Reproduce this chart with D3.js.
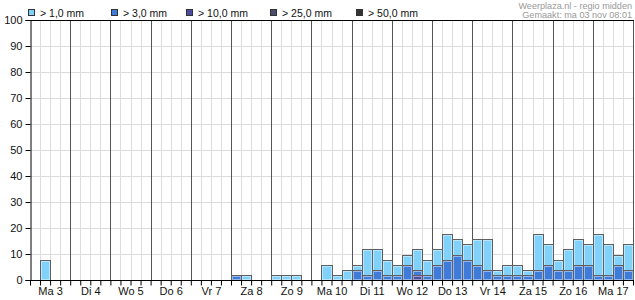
<!DOCTYPE html>
<html><head><meta charset="utf-8">
<script src="https://cdn.jsdelivr.net/npm/d3@7"></script>
<style>
body{margin:0;background:#fff;}
svg{display:block;font-family:"Liberation Sans",Arial,sans-serif;}
</style></head>
<body><svg id="c" width="635" height="300"></svg>
<script>
// ---- data ----
const days = ["Ma 3","Di 4","Wo 5","Do 6","Vr 7","Za 8","Zo 9","Ma 10","Di 11","Wo 12","Do 13","Vr 14","Za 15","Zo 16","Ma 17"];
const seriesNames = ["> 1,0 mm","> 3,0 mm","> 10,0 mm","> 25,0 mm","> 50,0 mm"];
const seriesColors = ["#80d2fb","#3f7bd9","#4a4aa3","#4b4b6b","#333333"];
// 4 values per day (6-hour periods), percent
const gt1 = [
  0,7.84,0,0,   0,0,0,0,   0,0,0,0,   0,0,0,0,   0,0,0,0,
  1.96,1.96,0,0,   1.96,1.96,1.96,0,   0,5.88,1.96,3.92,
  5.88,11.76,11.76,7.84,   5.88,9.8,11.76,7.84,   11.76,17.65,15.69,13.73,
  15.69,15.69,3.92,5.88,   5.88,3.92,17.65,13.73,   7.84,11.76,15.69,13.73,
  17.65,13.73,9.8,13.73];
const gt3 = [
  0,0,0,0,   0,0,0,0,   0,0,0,0,   0,0,0,0,   0,0,0,0,
  1.96,0,0,0,   0,0,0,0,   0,0,0,0,
  3.92,1.96,3.92,1.96,   1.96,5.88,3.92,1.96,   5.88,7.84,9.8,7.84,
  5.88,3.92,1.96,1.96,   1.96,1.96,3.92,5.88,   3.92,3.92,5.88,5.88,
  1.96,1.96,5.88,3.92];
const gt10 = [
  0,0,0,0,   0,0,0,0,   0,0,0,0,   0,0,0,0,   0,0,0,0,
  0,0,0,0,   0,0,0,0,   0,0,0,0,
  0,0,0,0,   0,0,1.96,0,   0,0,0,0,
  0,0,0,0,   0,0,0,0,   0,0,0,0,
  0,0,0,0];
const gt25 = new Array(60).fill(0);
const gt50 = new Array(60).fill(0);
const yTicks = [0,10,20,30,40,50,60,70,80,90,100];
const titleLines = ["Weerplaza.nl - regio midden","Gemaakt: ma 03 nov 08:01"];

// ---- layout ----
const L = 30, R = 633, T = 20, B = 280;
const nSlots = days.length * 4;
const x = d3.scaleLinear().domain([0, nSlots]).range([L, R]);
const y = d3.scaleLinear().domain([0, 100]).range([B, T]);
const svg = d3.select("#c");

// grid
const g = svg.append("g").attr("shape-rendering","crispEdges");
g.selectAll(".vg").data(d3.range(1, nSlots)).enter().append("line")
  .attr("x1", d => Math.round(x(d)) + 0.5).attr("x2", d => Math.round(x(d)) + 0.5)
  .attr("y1", T).attr("y2", B).attr("stroke", "#dcdcdc");
g.selectAll(".hg").data(yTicks.slice(1, -1)).enter().append("line")
  .attr("x1", L).attr("x2", R).attr("y1", d => Math.round(y(d)) + 0.5).attr("y2", d => Math.round(y(d)) + 0.5)
  .attr("stroke", "#dcdcdc");

// bars
const series = [gt1, gt3, gt10, gt25, gt50];
series.forEach((vals, si) => {
  const data = vals.map((v, i) => ({i, v})).filter(d => d.v > 0);
  const bg = svg.append("g").attr("shape-rendering","crispEdges");
  bg.selectAll("rect.o").data(data).enter().append("rect")
    .attr("x", d => Math.round(x(d.i)) + 0.5)
    .attr("y", d => Math.round(y(d.v)) + 0.5)
    .attr("width", d => Math.round(x(d.i + 1)) - Math.round(x(d.i)))
    .attr("height", d => B - Math.round(y(d.v)))
    .attr("fill", seriesColors[si]).attr("stroke", "#5f5f5f");
  bg.selectAll("rect.i").data(data.filter(d => B - y(d.v) > 3)).enter().append("rect")
    .attr("x", d => Math.round(x(d.i)) + 1.5)
    .attr("y", d => Math.round(y(d.v)) + 1.5)
    .attr("width", d => Math.round(x(d.i + 1)) - Math.round(x(d.i)) - 2)
    .attr("height", d => B - Math.round(y(d.v)) - 2)
    .attr("fill", "none").attr("stroke", "rgba(255,255,255,0.45)");
});

// day separators
g.append("g").selectAll("line").data(d3.range(1, days.length + 1)).enter().append("line")
  .attr("x1", d => Math.round(x(d * 4)) + 0.5).attr("x2", d => Math.round(x(d * 4)) + 0.5)
  .attr("y1", T).attr("y2", B).attr("stroke", "#555").attr("shape-rendering","crispEdges");

// axes frame
svg.append("line").attr("x1", L).attr("x2", R + 1).attr("y1", T + 0.5).attr("y2", T + 0.5).attr("stroke", "#000").attr("shape-rendering","crispEdges");

const yAxis = d3.axisLeft(y).tickValues(yTicks).tickSize(5).tickPadding(3);
const ya = svg.append("g").attr("transform", `translate(${L + 0.5},0)`).call(yAxis);
ya.select(".domain").attr("stroke", "#000");
ya.selectAll("text").attr("font-size", 11).attr("fill", "#111").attr("font-family", "Liberation Sans, Arial, sans-serif");

const xTickAxis = d3.axisBottom(x).tickValues(d3.range(0, nSlots + 1)).tickSize(5).tickFormat("");
const xa = svg.append("g").attr("transform", `translate(0,${B + 0.5})`).call(xTickAxis);
xa.select(".domain").attr("stroke", "#000").attr("d", `M${L},0H${R + 1}`);
xa.selectAll(".tick line").attr("stroke", "#000");

const xLabelAxis = d3.axisBottom(x).tickValues(days.map((d, i) => i * 4 + 2)).tickSize(0).tickPadding(7)
  .tickFormat((d) => days[(d - 2) / 4]);
const xl = svg.append("g").attr("transform", `translate(0,${B})`).call(xLabelAxis);
xl.select(".domain").remove();
xl.selectAll("text").attr("font-size", 11).attr("fill", "#111").attr("font-family", "Liberation Sans, Arial, sans-serif");

// legend
const legendX = [28, 111, 186, 270, 356];
const lg = svg.append("g");
seriesNames.forEach((n, i) => {
  lg.append("rect").attr("x", legendX[i] + 0.5).attr("y", 9.5).attr("width", 6).attr("height", 6)
    .attr("fill", seriesColors[i]).attr("stroke", "#333").attr("shape-rendering","crispEdges");
  lg.append("text").attr("x", legendX[i] + 12).attr("y", 16.5).attr("font-size", 10.5).attr("fill", "#111").text(n);
});

// title
titleLines.forEach((t, i) => {
  svg.append("text").attr("x", 632).attr("y", 8.5 + i * 9).attr("text-anchor", "end")
    .attr("font-size", 9.1).attr("fill", "#999").text(t);
});
</script></body></html>
